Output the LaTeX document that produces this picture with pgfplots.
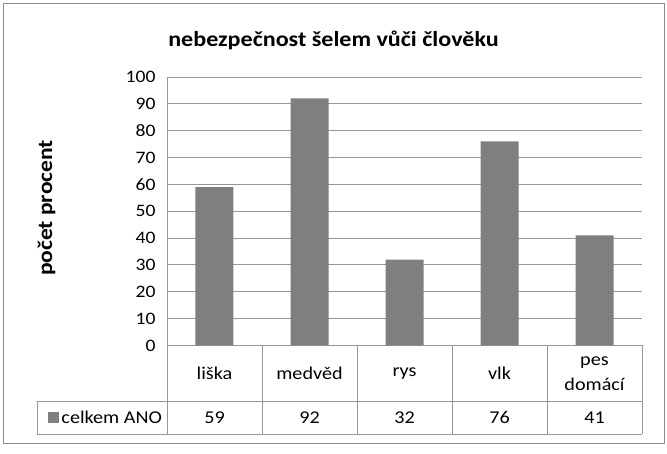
\documentclass[border=0pt]{standalone}
\usepackage{fontspec}
\setmainfont{Carlito}[FakeStretch=1.12]
\usepackage{pgfplots}
\pgfplotsset{compat=1.18}
\definecolor{barcol}{HTML}{7F7F7F}
\definecolor{linecol}{HTML}{969696}
\definecolor{framecol}{HTML}{8C8C8C}
\begin{document}
\begin{tikzpicture}[x=1pt,y=1pt]
  \path[use as bounding box] (0,0) rectangle (667,-454);
  \draw[framecol,line width=1pt] (3.5,-4) rectangle (664,-443);
  \node[font=\fontsize{21.5pt}{24pt}\selectfont\bfseries] at (333.5,-40) {nebezpečnost šelem vůči člověku};
  \node[font=\fontsize{21pt}{24pt}\selectfont\bfseries,rotate=90] at (46.5,-208) {počet procent};
  \begin{axis}[
    at={(167pt,-345.5pt)},anchor=south west,
    scale only axis,width=475pt,height=268.5pt,
    xmin=-0.5,xmax=4.5,ymin=0,ymax=100,
    clip=false,
    axis x line=bottom,axis y line=left,
    axis line style={linecol,line width=0.9pt,-},
    xtick={0,1,2,3,4},
    xticklabels={liška,medvěd,rys,vlk,{pes\\domácí}},
    xticklabel style={anchor=center,yshift=-28pt,align=center,font=\fontsize{18pt}{25pt}\selectfont},
    ytick={0,10,...,100},
    yticklabel style={xshift=-8pt,font=\fontsize{17.5pt}{20pt}\selectfont},
    /pgf/number format/assume math mode=true,
    major tick length=0pt,
    ymajorgrids,grid style={linecol,line width=0.9pt},
    legend style={at={(axis cs:-1.76,-26.9)},anchor=west,draw=none,fill=none,
      font=\fontsize{18pt}{20pt}\selectfont,inner xsep=1pt},
    legend image code/.code={\fill[barcol] (0pt,-5.5pt) rectangle (11pt,5.5pt);},
  ]
  \addplot[ybar,bar width=38pt,fill=barcol,draw=none] coordinates {(0,59) (1,92) (2,32) (3,76) (4,41)};
  \addlegendentry{celkem ANO}
  \addplot[draw=none,mark=none,forget plot,point meta=explicit symbolic,
    nodes near coords={\pgfplotspointmeta},
    nodes near coords style={anchor=center,font=\fontsize{18pt}{20pt}\selectfont}]
    coordinates {(0,-26.9) [59] (1,-26.9) [92] (2,-26.9) [32] (3,-26.9) [76] (4,-26.9) [41]};
  % datova tabulka pod osou
  \draw[linecol,line width=0.9pt] (axis cs:-1.865,-20.8) -- (axis cs:4.5,-20.8)
    (axis cs:-1.865,-33) -- (axis cs:4.5,-33)
    (axis cs:-1.865,-20.8) -- (axis cs:-1.865,-33)
    (axis cs:-0.5,0) -- (axis cs:-0.5,-33)
    (axis cs:0.5,0) -- (axis cs:0.5,-33)
    (axis cs:1.5,0) -- (axis cs:1.5,-33)
    (axis cs:2.5,0) -- (axis cs:2.5,-33)
    (axis cs:3.5,0) -- (axis cs:3.5,-33)
    (axis cs:4.5,0) -- (axis cs:4.5,-33);
  \end{axis}
\end{tikzpicture}
\end{document}
